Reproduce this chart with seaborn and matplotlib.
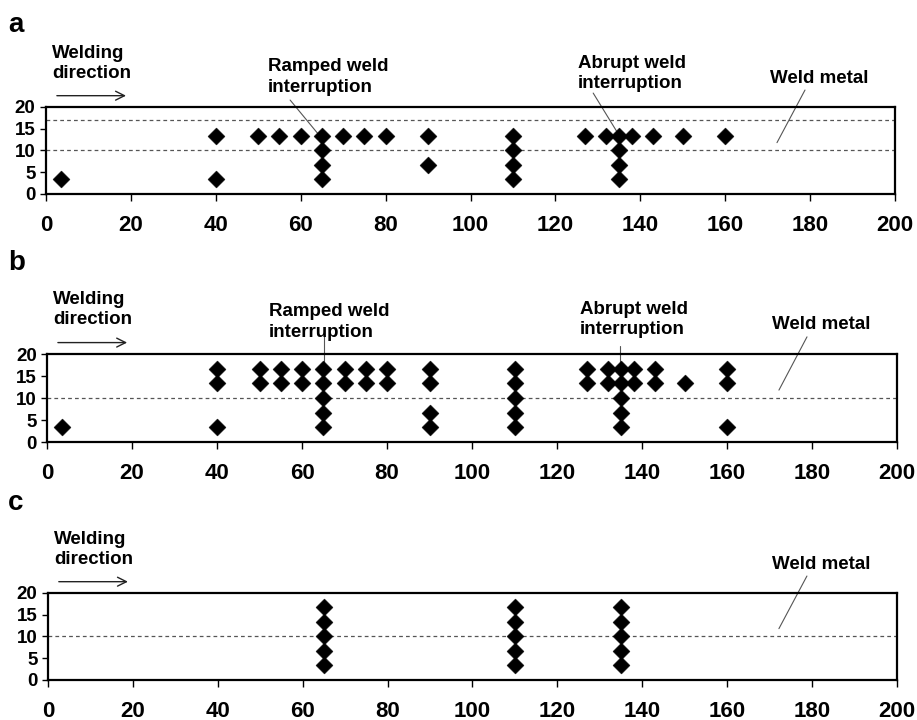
import matplotlib
matplotlib.use("Agg")
import matplotlib.pyplot as plt
import seaborn as sns
import pandas as pd

# Defect positions along the weld (mm) and their depth (mm) for each specimen
a_pos = [3.5, 40, 40, 50, 55, 60, 65, 65, 65, 65, 70, 75, 80, 90, 90,
         110, 110, 110, 110, 127, 132, 135, 135, 135, 135, 138, 143, 150, 160]
a_depth = [3.33, 13.33, 3.33, 13.33, 13.33, 13.33, 13.33, 10, 6.67, 3.33,
           13.33, 13.33, 13.33, 13.33, 6.67,
           13.33, 10, 6.67, 3.33, 13.33, 13.33, 13.33, 10, 6.67, 3.33,
           13.33, 13.33, 13.33, 13.33]

b_pos = [3.5, 40, 40, 40, 50, 50, 55, 55, 60, 60,
         65, 65, 65, 65, 65, 70, 70, 75, 75, 80, 80,
         90, 90, 90, 90, 110, 110, 110, 110, 110,
         127, 127, 132, 132, 135, 135, 135, 135, 135,
         138, 138, 143, 143, 150, 160, 160, 160]
b_depth = [3.33, 16.67, 13.33, 3.33, 16.67, 13.33, 16.67, 13.33, 16.67, 13.33,
           16.67, 13.33, 10, 6.67, 3.33, 16.67, 13.33, 16.67, 13.33, 16.67, 13.33,
           16.67, 13.33, 6.67, 3.33, 16.67, 13.33, 10, 6.67, 3.33,
           16.67, 13.33, 16.67, 13.33, 16.67, 13.33, 10, 6.67, 3.33,
           16.67, 13.33, 16.67, 13.33, 13.33, 16.67, 13.33, 3.33]

c_pos = [65, 65, 65, 65, 65, 110, 110, 110, 110, 110, 135, 135, 135, 135, 135]
c_depth = [16.67, 13.33, 10, 6.67, 3.33, 16.67, 13.33, 10, 6.67, 3.33,
           16.67, 13.33, 10, 6.67, 3.33]

# Boundary lines of the weld metal zone
a_bounds = [10, 17]
b_bounds = [10]
c_bounds = [10]

panel_labels = ["a", "b", "c"]
x_ticks = [0, 20, 40, 60, 80, 100, 120, 140, 160, 180, 200]
y_ticks = [0, 5, 10, 15, 20]

sns.set_style("white")
plt.rcParams["font.family"] = ["Liberation Sans", "DejaVu Sans"]
plt.rcParams["font.weight"] = "bold"
plt.rcParams["text.color"] = "black"

fig = plt.figure(figsize=(9.17, 7.2), dpi=100)

rects = [
    [0.0502, 0.7306, 0.9258, 0.1208],
    [0.0513, 0.3861, 0.9270, 0.1222],
    [0.0523, 0.0556, 0.9258, 0.1208],
]
label_y = [0.9556, 0.625, 0.2917]

panels = [
    (a_pos, a_depth, a_bounds),
    (b_pos, b_depth, b_bounds),
    (c_pos, c_depth, c_bounds),
]

txt_kw = dict(fontsize=13.5, fontweight="bold", va="top", ha="left",
              linespacing=1.25, color="black", clip_on=False)
lead_kw = dict(color="#555555", lw=0.8, clip_on=False)

axes = []
for i, ((pos, depth, bounds), rect) in enumerate(zip(panels, rects)):
    ax = fig.add_axes(rect)
    axes.append(ax)
    df = pd.DataFrame({"position": pos, "depth": depth})
    for b in bounds:
        ax.axhline(b, color="#555555", lw=0.9, ls=(0, (3, 2.5)), zorder=1)
    sns.scatterplot(data=df, x="position", y="depth", ax=ax, marker="D",
                    s=75, color="black", edgecolor="black", linewidth=0.3,
                    zorder=3, legend=False)
    ax.set_xlim(0, 200)
    ax.set_ylim(0, 20)
    ax.set_xticks(x_ticks)
    ax.set_yticks(y_ticks)
    ax.set_xlabel("")
    ax.set_ylabel("")
    for sp in ax.spines.values():
        sp.set_visible(True)
        sp.set_color("black")
        sp.set_linewidth(1.6)
    ax.tick_params(axis="x", direction="out", length=5, width=1, pad=10,
                   labelsize=16, bottom=True, colors="black")
    ax.tick_params(axis="y", direction="out", length=4.5, width=1, pad=3,
                   labelsize=13.5, left=True, colors="black")
    for lab in ax.get_xticklabels() + ax.get_yticklabels():
        lab.set_fontweight("bold")

    fig.text(0.009, label_y[i], panel_labels[i], fontsize=20,
             fontweight="bold", va="baseline", ha="left", color="black")

    # Welding direction label with arrow
    ax.text(1.4, 34.3, "Welding\ndirection", **txt_kw)
    ax.annotate("", xy=(19.5, 22.6), xytext=(1.9, 22.6),
                arrowprops=dict(arrowstyle="->", lw=1.0, color="#222222",
                                mutation_scale=16),
                annotation_clip=False)

    # Weld metal label and leader
    ax.text(170.6, 28.6, "Weld metal", **txt_kw)
    ax.plot([178.8, 172.2], [23.9, 11.8], **lead_kw)

# Interruption labels in panels a and b
axes[0].text(52.3, 31.2, "Ramped weld\ninterruption", **txt_kw)
axes[0].plot([57.5, 64.1], [21.6, 13.8], **lead_kw)
axes[0].text(125.3, 31.9, "Abrupt weld\ninterruption", **txt_kw)
axes[0].plot([128.9, 134.5], [23.2, 14.3], **lead_kw)

axes[1].text(52.2, 31.5, "Ramped weld\ninterruption", **txt_kw)
axes[1].plot([65.1, 65.1], [24.3, 18.0], **lead_kw)
axes[1].text(125.3, 32.0, "Abrupt weld\ninterruption", **txt_kw)
axes[1].plot([134.9, 134.9], [21.8, 16.0], **lead_kw)

fig.savefig("out.png", dpi=100)
